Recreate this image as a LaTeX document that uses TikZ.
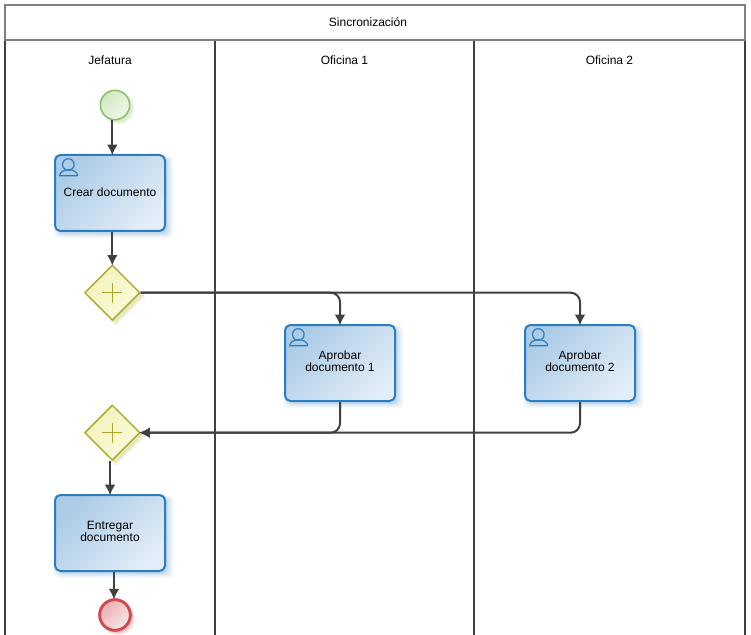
\documentclass[tikz,border=0pt]{standalone}
\usepackage{fontspec}
\setmainfont{Liberation Sans}
\usetikzlibrary{arrows.meta,shapes.geometric,shadows}
\definecolor{lineacolor}{HTML}{404040}
\definecolor{bordecolor}{HTML}{808080}
\definecolor{taskborde}{HTML}{2A7DBF}
\definecolor{taskA}{HTML}{ABCBE6}
\definecolor{taskB}{HTML}{E2EDF7}
\definecolor{gateborde}{HTML}{A8A828}
\definecolor{gateA}{HTML}{F2F2BC}
\definecolor{gateB}{HTML}{FBFBDD}
\definecolor{inicioborde}{HTML}{8CC265}
\definecolor{finborde}{HTML}{D0494F}
\tikzset{
soft/.style={
  general shadow={fill=#1, opacity=.05, shadow xshift=2.6pt, shadow yshift=-2.6pt, shadow scale=1.09},
  general shadow={fill=#1, opacity=.07, shadow xshift=2.4pt, shadow yshift=-2.4pt, shadow scale=1.06},
  general shadow={fill=#1, opacity=.09, shadow xshift=2.2pt, shadow yshift=-2.2pt, shadow scale=1.03},
  general shadow={fill=#1, opacity=.11, shadow xshift=2pt, shadow yshift=-2pt}
},
task/.style={draw=taskborde, line width=1.5pt, rounded corners=4pt, soft=taskborde,
  left color=taskA, right color=taskB, shading angle=45,
  minimum width=82.5pt, minimum height=57pt, inner sep=0pt, align=center,
  font=\fontsize{9}{9}\selectfont},
gate/.style={diamond, aspect=1, draw=gateborde, line width=1pt, soft=gateborde,
  left color=gateA, right color=gateB, shading angle=45, minimum size=41.5pt, inner sep=0pt},
flow/.style={lineacolor, line width=1.5pt, shorten >=-1pt, -{Latex[length=8pt,width=8pt]}},
turn/.style={flow, rounded corners=7pt},
lane/.style={font=\fontsize{9}{9}\selectfont}
}

\begin{document}
\begin{tikzpicture}[x=0.75pt, y=-0.75pt]
\useasboundingbox (0, 0) rectangle (751, 635);

\fill[white] (0, 0) rectangle (751, 635);

% carriles
\foreach \x in {5, 215, 474, 745} {
\draw[lineacolor, line width=1.5pt] (\x, 40) -- (\x, 635);
}
\node[draw=bordecolor, line width=1.5pt, minimum width=555pt, minimum height=26.25pt, inner sep=0pt] (titulo) at (375, 22.5) {};

\node[lane] (sincronizacion) at (368, 22) {Sincronizaci\'on};
\node[lane] (jefatura) at (110, 60) {Jefatura};
\node[lane] (oficina1) at (344.5, 60) {Oficina 1};
\node[lane] (oficina2) at (609.5, 60) {Oficina 2};

% eventos y tareas
\node[circle, draw=inicioborde, line width=1.2pt, soft=inicioborde, left color=inicioborde!40!white, right color=inicioborde!12!white, shading angle=45, minimum size=22pt, inner sep=0pt] (inicio) at (115, 105) {};

\node[task] (crear) at (110, 193) {\raisebox{2pt}{Crear documento}};
\node[gate] (paralelo1) at (112.3, 292.7) {};
\node[task] (aprobar1) at (340, 363) {\raisebox{2pt}{\begin{tabular}{@{}c@{}}Aprobar\\documento 1\end{tabular}}};
\node[task] (aprobar2) at (580, 363) {\raisebox{2pt}{\begin{tabular}{@{}c@{}}Aprobar\\documento 2\end{tabular}}};
\node[gate] (paralelo2) at (112.3, 432.7) {};
\node[task] (entregar) at (110, 533) {\raisebox{2pt}{\begin{tabular}{@{}c@{}}Entregar\\documento\end{tabular}}};

\node[circle, draw=finborde, line width=2.2pt, soft=finborde, left color=finborde!45!white, right color=finborde!12!white, shading angle=45, minimum size=23pt, inner sep=0pt] (fin) at (115, 615) {};

% iconos de usuario
\foreach \t in {crear, aprobar1, aprobar2} {
\draw[taskborde, line width=0.9pt] (\t.north west)++(14.3, 10.5) circle (5.8);
\draw[taskborde, line width=0.9pt] (\t.north west)++(23.7, 21.7) -- ++(-18, 0) arc[start angle=180, end angle=360, x radius=9, y radius=6];
}

% signos de las compuertas
\foreach \g in {paralelo1, paralelo2} {
\draw[gateborde, line width=0.9pt] (\g.center)++(-10, 0) -- ++(20, 0);
\draw[gateborde, line width=0.9pt] (\g.center)++(0, -10) -- ++(0, 20);
}

% flujos
\draw[flow] (inicio.south -| paralelo1) -- (crear.north -| paralelo1);
\draw[flow] (crear.south -| paralelo1) -- (paralelo1.north);
\draw[turn] (paralelo1.east) -| (aprobar1.north);
\draw[turn] (paralelo1.east) -| (aprobar2.north);
\draw[turn] (aprobar1.south) |- (paralelo2.east);
\draw[turn] (aprobar2.south) |- (paralelo2.east);
\draw[flow] (paralelo2.south -| entregar) -- (entregar.north);
\draw[flow] ([xshift=-0.75pt]entregar.south -| fin) -- ([xshift=-0.75pt]fin.north);
\end{tikzpicture}
\end{document}
